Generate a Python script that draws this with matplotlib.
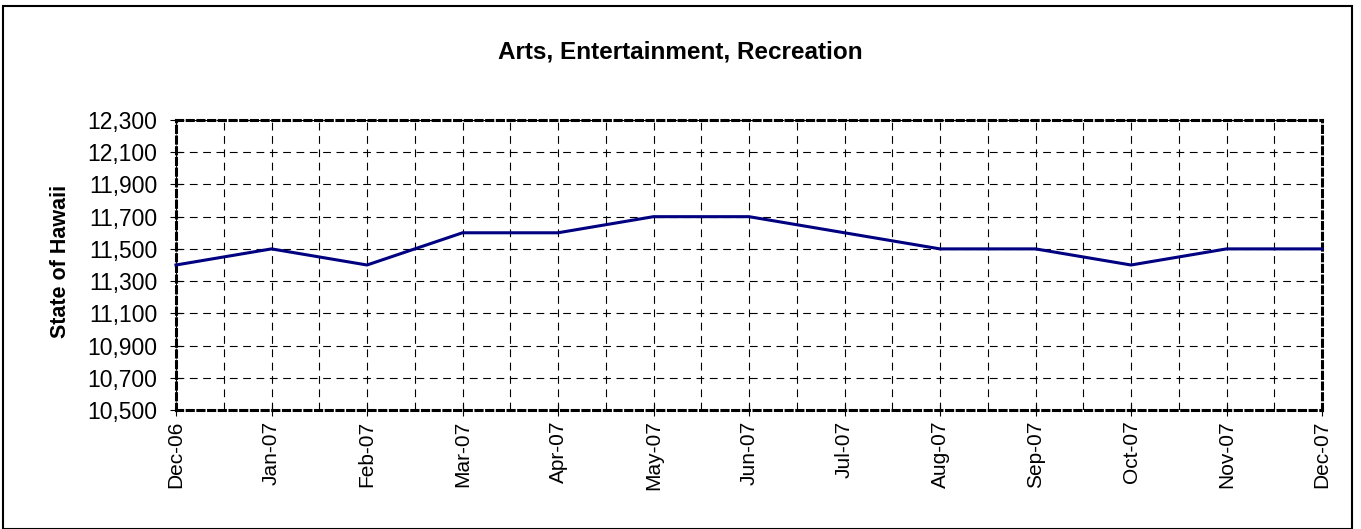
import matplotlib.pyplot as plt
from matplotlib.patches import Rectangle
from matplotlib.ticker import FuncFormatter, MultipleLocator

months = ['Dec-06', 'Jan-07', 'Feb-07', 'Mar-07', 'Apr-07', 'May-07', 'Jun-07',
          'Jul-07', 'Aug-07', 'Sep-07', 'Oct-07', 'Nov-07', 'Dec-07']
jobs = [11400, 11500, 11400, 11600, 11600, 11700, 11700,
        11600, 11500, 11500, 11400, 11500, 11500]
y_ticks = [10500, 10700, 10900, 11100, 11300, 11500, 11700, 11900, 12100, 12300]

plt.rcParams['font.family'] = ['Liberation Sans', 'DejaVu Sans']

fig = plt.figure(figsize=(13.61, 5.29), dpi=100)
ax = fig.add_axes([176 / 1361, 1 - 410 / 529, (1322 - 176) / 1361, (410 - 120) / 529])

x = list(range(len(months)))
ax.plot(x, jobs, color='#000080', linewidth=2.2, zorder=3, clip_on=False)
ax.axvline(0, color='#808080', linewidth=1.2, zorder=1)

ax.set_xlim(0, len(months) - 1)
ax.set_ylim(y_ticks[0], y_ticks[-1])
ax.set_xticks(x)
ax.set_xticklabels(months, rotation=90, fontsize=15)
ax.xaxis.set_minor_locator(MultipleLocator(0.5))
ax.set_yticks(y_ticks)
ax.yaxis.set_major_formatter(FuncFormatter(lambda v, p: f'{int(v):,}'))
ax.tick_params(axis='y', labelsize=16.5, pad=9)
ax.tick_params(axis='x', pad=3)
ax.tick_params(which='major', direction='inout', length=9, width=0.8, color='black')
ax.tick_params(which='minor', length=0)

ax.grid(True, which='both', axis='x', color='black', linestyle=(0, (7, 5)), linewidth=0.8)
ax.grid(True, which='major', axis='y', color='black', linestyle=(0, (7, 5)), linewidth=0.8)

for side in ['left', 'right', 'top', 'bottom']:
    ax.spines[side].set_linestyle((0, (2, 1.5)))
    ax.spines[side].set_linewidth(2.2)
    ax.spines[side].set_color('black')

fig.text(60 / 1361, 1 - 261 / 529, 'State of Hawaii', rotation=90, fontsize=15.5,
         fontweight='bold', ha='center', va='center')

fig.text(680 / 1361, 1 - 52 / 529, 'Arts, Entertainment, Recreation', fontsize=17.5,
         fontweight='bold', ha='center', va='center')

fig.patches.append(Rectangle((3 / 1361, 0), 1349 / 1361, 1 - 6 / 529, transform=fig.transFigure,
                             fill=False, edgecolor='black', linewidth=1.5))

fig.savefig('out.png', dpi=100)
